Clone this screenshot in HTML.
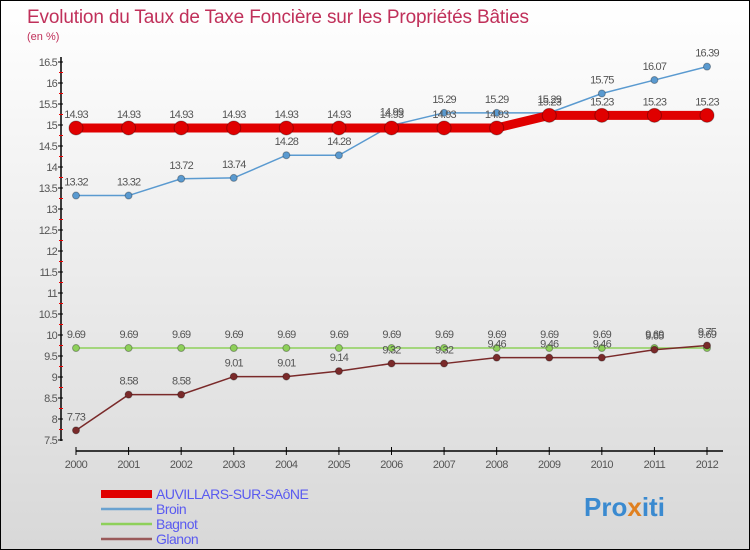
<!DOCTYPE html>
<html><head><meta charset="utf-8"><style>
body{margin:0}
#c{width:750px;height:550px;position:relative;box-sizing:border-box;border:1px solid #000;background:linear-gradient(#fff,#d8d8d8);overflow:hidden;font-family:"Liberation Sans","DejaVu Sans",sans-serif}
</style></head><body>
<div id="c">
<svg id="s" width="748" height="548" style="position:absolute;left:0;top:0">
<text x="26" y="22" font-size="19" fill="#c0305a" textLength="502">Evolution du Taux de Taxe Foncière sur les Propriétés Bâties</text>
<text x="26" y="39" font-size="11" fill="#c0305a">(en %)</text>
<text x="583" y="515" font-size="26" font-weight="bold" fill="#3a8ad0">Pro<tspan fill="#e08020">x</tspan>iti</text>
</svg>
</div>
<script>
const years=[2000,2001,2002,2003,2004,2005,2006,2007,2008,2009,2010,2011,2012];
const auvillars=[14.93,14.93,14.93,14.93,14.93,14.93,14.93,14.93,14.93,15.23,15.23,15.23,15.23];
const broin=[13.32,13.32,13.72,13.74,14.28,14.28,14.99,15.29,15.29,15.29,15.75,16.07,16.39];
const bagnot=[9.69,9.69,9.69,9.69,9.69,9.69,9.69,9.69,9.69,9.69,9.69,9.69,9.69];
const glanon=[7.73,8.58,8.58,9.01,9.01,9.14,9.32,9.32,9.46,9.46,9.46,9.65,9.75];
const yTicks=[7.5,8,8.5,9,9.5,10,10.5,11,11.5,12,12.5,13,13.5,14,14.5,15,15.5,16,16.5];
const names=["AUVILLARS-SUR-SAôNE","Broin","Bagnot","Glanon"];
const s=document.getElementById('s');const NS='http://www.w3.org/2000/svg';
function X(i){return 75+i*(706-75)/(years.length-1);}
function Y(v){return 439-(v-7.5)*42;}
function el(t,a,p){const e=document.createElementNS(NS,t);for(const k in a)e.setAttribute(k,a[k]);(p||s).appendChild(e);return e;}
let e;
e=el('line',{x1:60,y1:56,x2:60,y2:440,stroke:'#000','stroke-width':1.5});


e=el('line',{x1:75,y1:450,x2:722,y2:450,stroke:'#000','stroke-width':1.5});


yTicks.forEach((v,k)=>{el('line',{x1:57,x2:62,y1:Y(v),y2:Y(v),stroke:'#000'});
 if(k<yTicks.length-1)el('line',{x1:58,x2:62,y1:Y(v+0.25),y2:Y(v+0.25),stroke:'#e00'});
 const t=el('text',{x:56,y:Y(v)+4,'font-size':11,'text-anchor':'end',fill:'#555','letter-spacing':'-0.8'});t.textContent=v;
 
 });
years.forEach((y,i)=>{el('line',{x1:X(i),x2:X(i),y1:446,y2:454,stroke:'#000'});
 const t=el('text',{x:X(i),y:467,'font-size':11,'text-anchor':'middle',fill:'#555','letter-spacing':'-0.5'});t.textContent=y;
 
 });
function series(d,col,w,r,name){
 const p=el('polyline',{points:d.map((v,i)=>X(i)+','+Y(v)).join(' '),fill:'none',stroke:col,'stroke-width':w});
 
 
 d.forEach((v,i)=>{const c=el('circle',{cx:X(i),cy:Y(v),r:r,fill:col,stroke:'rgba(0,0,0,0.3)'});
  
  
  const t=el('text',{x:X(i),y:Y(v)-10,'font-size':11,'text-anchor':'middle',fill:'#555','letter-spacing':'-0.8'});t.textContent=v.toFixed(2);
  
  });
}
series(bagnot,'#8ed05a',1.5,3.5,'bagnot');
series(glanon,'#7a2a2a',1.5,3.5,'glanon');
series(broin,'#5a9ad0',1.5,3.5,'broin');
series(auvillars,'#e00000',9,7,'auvillars');
const cols=['#e00000','#6aa2d0','#8ed05a','#9a5a5a'],ws=[8,2.5,2.5,2.5];
names.forEach((n,k)=>{const y=493+k*15;
 const l=el('line',{x1:100,x2:151,y1:y,y2:y,stroke:cols[k],'stroke-width':ws[k]});
 
 
 const t=el('text',{x:155,y:y+5,'font-size':14,fill:'#5a5af0','letter-spacing':'-0.5'});t.textContent=n;
 
 });
</script>
</body></html>
